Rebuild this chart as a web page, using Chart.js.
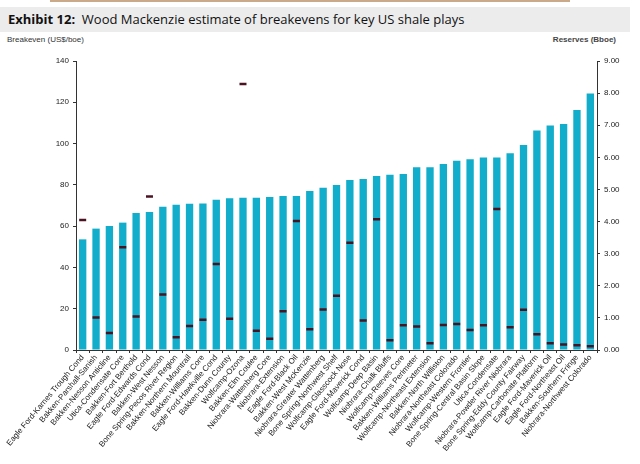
<!DOCTYPE html>
<html>
<head>
<meta charset="utf-8">
<script src="https://cdn.jsdelivr.net/npm/chart.js@4.4.1/dist/chart.umd.min.js"></script>
<style>
  html, body { margin: 0; padding: 0; background: #fff; }
  #wrap { position: relative; width: 640px; height: 464px; overflow: hidden; background: #fff; }
  #topline { position: absolute; left: 50px; top: 0; width: 520px; height: 2px; background: #c9a98a; }
  #band { position: absolute; left: 0; top: 7px; width: 630px; height: 25px; background: #ececec; }
  #title { position: absolute; left: 8px; top: 10px; font-family: "Open Sans", sans-serif; font-size: 13px; color: #111; white-space: nowrap; }
  #title b { font-weight: 700; }
  .axt { position: absolute; top: 35px; font-family: "Liberation Sans", Arial, sans-serif; font-size: 8px; color: #333; }
  #lt { left: 7px; }
  #rt { right: 24px; font-weight: 700; color: #444; }
  canvas { position: absolute; left: 0; top: 0; }
</style>
</head>
<body>
<div id="wrap">
  <div id="topline"></div>
  <div id="band"></div>
  <div id="title"><b>Exhibit 12:</b>&nbsp; Wood Mackenzie estimate of breakevens for key US shale plays</div>
  <div class="axt" id="lt">Breakeven (US$/boe)</div>
  <div class="axt" id="rt">Reserves (Bboe)</div>
  <canvas id="chart" width="640" height="464"></canvas>
</div>
<script>
// Plays sorted by breakeven
const plays = [
  'Eagle Ford-Karnes Trough Cond', 'Bakken-Parshall-Sanish', 'Bakken-Nesson Anticline', 'Utica-Condensate Core',
  'Bakken-Fort Berthold', 'Eagle Ford-Edwards Cond', 'Bakken-West Nesson', 'Bone Spring-Pecos River Region',
  'Bakken-Northern Mountrail', 'Bakken-Williams Core', 'Eagle Ford-Hawkville Cond', 'Bakken-Dunn County',
  'Wolfcamp-Ozona', 'Bakken-Elm Coulee', 'Niobrara-Wattenberg Core', 'Niobrara-Extension',
  'Eagle Ford-Black Oil', 'Bakken-West McKenzie', 'Niobrara-Greater Wattenberg', 'Bone Spring-Northwest Shelf',
  'Wolfcamp-Glasscock Nose', 'Eagle Ford-Maverick Cond', 'Wolfcamp-Deep Basin', 'Niobrara-Chalk Bluffs',
  'Wolfcamp-Reeves Core', 'Bakken-Williams Perimeter', 'Wolfcamp-Northeast Extension', 'Bakken-North Williston',
  'Niobrara-Northeast Colorado', 'Wolfcamp-Western Frontier', 'Bone Spring-Central Basin Slope', 'Utica-Condensate',
  'Niobrara-Powder River Niobrara', 'Bone Spring-Eddy County Fairway', 'Wolfcamp-Carbonate Platform', 'Eagle Ford-Maverick Oil',
  'Eagle Ford-Northeast Oil', 'Bakken-Southern Fringe', 'Niobrara-Northwest Colorado'
];

// Breakeven, US$/boe (left axis)
const breakeven = [
  53.6, 58.8, 60.1, 61.7, 66.4, 66.9, 69.4, 70.4, 70.9, 71.0,
  72.8, 73.5, 73.8, 73.8, 74.1, 74.6, 74.6, 77.0, 78.6, 79.9,
  82.4, 82.8, 84.3, 84.9, 85.3, 88.5, 88.5, 90.1, 91.7, 92.4,
  93.3, 93.3, 95.3, 99.3, 106.3, 108.7, 109.5, 116.3, 124.2
];

// Reserves, Bboe (right axis)
const reserves = [
  4.05, 1.01, 0.53, 3.20, 1.04, 4.78, 1.73, 0.40, 0.75, 0.94,
  2.68, 0.97, 8.28, 0.60, 0.35, 1.21, 4.02, 0.65, 1.26, 1.69,
  3.34, 0.92, 4.07, 0.30, 0.77, 0.73, 0.21, 0.78, 0.81, 0.62,
  0.77, 4.39, 0.71, 1.25, 0.49, 0.21, 0.17, 0.15, 0.12
];

const leftTicks = [0, 20, 40, 60, 80, 100, 120, 140];
const rightTicks = [0, 1, 2, 3, 4, 5, 6, 7, 8, 9];

const tickFont = { family: '"Liberation Sans", Arial, sans-serif', size: 8 };
const axisColor = '#333';

new Chart(document.getElementById('chart'), {
  data: {
    labels: plays,
    datasets: [
      {
        type: 'line',
        label: 'Reserves',
        data: reserves,
        yAxisID: 'y1',
        showLine: false,
        pointStyle: 'line',
        pointRadius: 3.5,
        pointBorderWidth: 2.5,
        borderColor: '#4a1322',
        backgroundColor: '#4a1322',
        order: 0
      },
      {
        type: 'bar',
        label: 'Breakeven',
        data: breakeven,
        yAxisID: 'y',
        backgroundColor: '#12adca',
        barPercentage: 0.55,
        categoryPercentage: 1.0,
        order: 1
      }
    ]
  },
  options: {
    responsive: false,
    animation: false,
    layout: { padding: { top: 61, left: 0, right: 0, bottom: 0 } },
    plugins: { legend: { display: false }, tooltip: { enabled: false } },
    scales: {
      x: {
        grid: { display: true, drawOnChartArea: false, drawTicks: true, tickLength: 3, color: axisColor, offset: true },
        border: { display: true, color: axisColor, width: 1 },
        ticks: { autoSkip: false, maxRotation: 50, minRotation: 50, font: tickFont, color: '#222', padding: 0 },
        afterFit: (s) => { s.height = 114; }
      },
      y: {
        position: 'left',
        min: leftTicks[0],
        max: leftTicks[leftTicks.length - 1],
        afterBuildTicks: (s) => { s.ticks = leftTicks.map(v => ({ value: v })); },
        grid: { display: true, drawOnChartArea: false, drawTicks: true, tickLength: 3, color: axisColor },
        border: { display: true, color: axisColor, width: 1 },
        ticks: { font: tickFont, color: '#222', padding: 4 },
        afterFit: (s) => { s.width = 76; }
      },
      y1: {
        position: 'right',
        min: rightTicks[0],
        max: rightTicks[rightTicks.length - 1],
        afterBuildTicks: (s) => { s.ticks = rightTicks.map(v => ({ value: v })); },
        grid: { display: true, drawOnChartArea: false, drawTicks: true, tickLength: 3, color: axisColor },
        border: { display: true, color: axisColor, width: 1 },
        ticks: { font: tickFont, color: '#222', padding: 4, callback: (v) => Number(v).toFixed(2) },
        afterFit: (s) => { s.width = 43; }
      }
    }
  }
});
</script>
</body>
</html>
